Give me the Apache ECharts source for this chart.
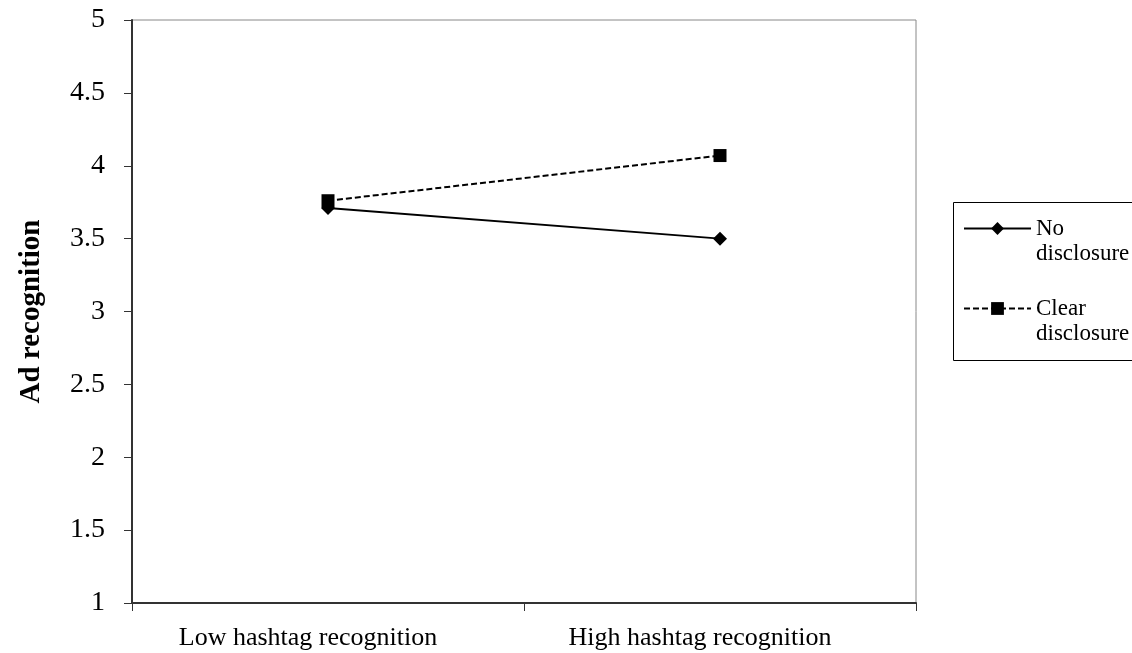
<!DOCTYPE html>
<html>
<head>
<meta charset="utf-8">
<script src="https://cdn.jsdelivr.net/npm/echarts@6/dist/echarts.min.js"></script>
<style>
  html, body { margin: 0; padding: 0; background: #fff; }
  #chart { width: 1132px; height: 653px; }
</style>
</head>
<body>
<div id="chart"></div>
<script>
const categories = ['Low hashtag recognition', 'High hashtag recognition']
const noDisclosure = [3.71, 3.50]
const clearDisclosure = [3.76, 4.07]
const yTicks = [1, 1.5, 2, 2.5, 3, 3.5, 4, 4.5, 5]

const font = '"Liberation Serif", "Times New Roman", serif'
const chart = echarts.init(document.getElementById('chart'))

const options = {
  backgroundColor: '#fff',
  animation: false,
  grid: {
    left: 132,
    right: 216,
    top: 20,
    bottom: 50,
    show: true,
    borderColor: '#888',
    borderWidth: 1
  },
  legend: {
    orient: 'vertical',
    left: 963,
    top: 191,
    itemWidth: 67,
    itemHeight: 16,
    itemGap: 5,
    padding: 0,
    textStyle: {
      fontFamily: font,
      fontSize: 23,
      color: '#000',
      lineHeight: 25
    },
    // blank first line keeps the first word level with the icon
    formatter: name => '\u00a0\n' + name,
    data: ['No\ndisclosure', 'Clear\ndisclosure']
  },
  graphic: [{
    type: 'rect',
    shape: { x: 953.5, y: 202.5, width: 200, height: 158 },
    style: { fill: 'none', stroke: '#000', lineWidth: 1 },
    silent: true
  }],
  xAxis: {
    type: 'category',
    data: categories,
    boundaryGap: true,
    axisLine: { lineStyle: { color: '#333', width: 2 } },
    axisTick: { show: true, length: 8, lineStyle: { color: '#333', width: 1 } },
    axisLabel: {
      fontFamily: font,
      fontSize: 26,
      color: '#000',
      margin: 22,
      padding: [0, 40, 0, 0]
    },
    splitLine: { show: false }
  },
  yAxis: {
    type: 'value',
    min: 1,
    max: 5,
    interval: 0.5,
    name: 'Ad recognition',
    nameLocation: 'middle',
    nameGap: 86,
    nameTextStyle: { fontFamily: font, fontSize: 29, fontWeight: 'bold', color: '#000' },
    axisLine: { show: true, lineStyle: { color: '#333', width: 2 } },
    axisTick: { show: true, length: 8, lineStyle: { color: '#333', width: 1 } },
    axisLabel: {
      fontFamily: font,
      fontSize: 28,
      color: '#000',
      margin: 27,
      formatter: v => (yTicks.indexOf(v) >= 0 ? String(v) : '')
    },
    splitLine: { show: false }
  },
  series: [
    {
      name: 'No\ndisclosure',
      type: 'line',
      data: noDisclosure,
      symbol: 'diamond',
      symbolSize: 14,
      itemStyle: { color: '#000' },
      lineStyle: { color: '#000', width: 2, type: 'solid' }
    },
    {
      name: 'Clear\ndisclosure',
      type: 'line',
      data: clearDisclosure,
      symbol: 'rect',
      symbolSize: 13,
      itemStyle: { color: '#000' },
      lineStyle: { color: '#000', width: 2, type: [6, 3] }
    }
  ]
}

chart.setOption(options)
</script>
</body>
</html>
